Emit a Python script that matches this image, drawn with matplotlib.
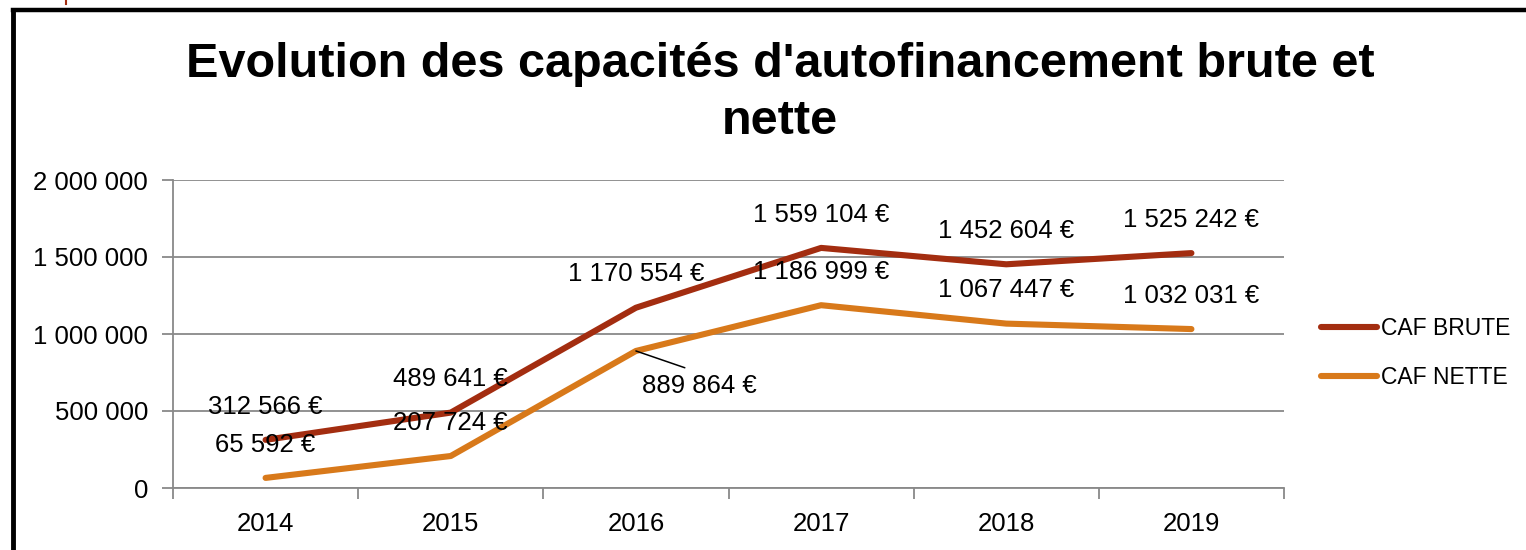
import matplotlib
matplotlib.use("Agg")
import matplotlib.pyplot as plt
from matplotlib.lines import Line2D

plt.rcParams['font.family'] = ['Liberation Sans', 'DejaVu Sans']

years = ['2014', '2015', '2016', '2017', '2018', '2019']
caf_brute = [312566, 489641, 1170554, 1559104, 1452604, 1525242]
caf_nette = [65592, 207724, 889864, 1186999, 1067447, 1032031]

brute_color = '#A32D10'
nette_color = '#D8791A'
grid_color = '#898989'
fs = 18.5


def fmt_eur(v):
    return '{:,}'.format(v).replace(',', ' ') + ' €'


def fmt_axis(v):
    return '{:,}'.format(int(v)).replace(',', ' ')


fig = plt.figure(figsize=(15.26, 5.5), dpi=100)
ax = fig.add_axes([173 / 1526, 1 - 488 / 550, 1111 / 1526, 308 / 550])

x = list(range(len(years)))
ax.plot(x, caf_brute, color=brute_color, lw=4.4, solid_capstyle='round', label='CAF BRUTE')
ax.plot(x, caf_nette, color=nette_color, lw=4.4, solid_capstyle='round', label='CAF NETTE')

ax.set_xlim(-0.5, len(years) - 0.5)
ax.set_ylim(0, 2000000)
yt = [0, 500000, 1000000, 1500000, 2000000]
ax.set_yticks(yt)
ax.set_yticklabels([fmt_axis(v) for v in yt], fontsize=fs)
ax.set_xticks(x)
ax.set_xticklabels(years, fontsize=fs)
ax.tick_params(axis='x', length=0, pad=17)
ax.tick_params(axis='y', length=8, width=1.3, color=grid_color, pad=10)
# category boundary ticks
ax.set_xticks([i - 0.5 for i in range(len(years) + 1)], minor=True)
ax.tick_params(axis='x', which='minor', length=8, width=1.3, color=grid_color)

ax.grid(axis='y', color=grid_color, lw=1.3)
ax.set_axisbelow(True)
for s in ['top', 'right']:
    ax.spines[s].set_visible(False)
for s in ['left', 'bottom']:
    ax.spines[s].set_color(grid_color)
    ax.spines[s].set_linewidth(1.3)

# data labels
for i, v in enumerate(caf_brute):
    ax.annotate(fmt_eur(v), (i, v), xytext=(0, 24), textcoords='offset points',
                ha='center', va='center', fontsize=fs)
for i, v in enumerate(caf_nette):
    if i == 2:
        ax.annotate(fmt_eur(v), (i, v), xytext=(46, -25), textcoords='offset points',
                    ha='center', va='center', fontsize=fs,
                    arrowprops=dict(arrowstyle='-', color='black', lw=1.1,
                                    relpos=(0.52, 1.0), shrinkA=7, shrinkB=0))
    else:
        ax.annotate(fmt_eur(v), (i, v), xytext=(0, 24), textcoords='offset points',
                    ha='center', va='center', fontsize=fs)

handles = [Line2D([0], [0], color=brute_color, lw=4.4, solid_capstyle='round'),
           Line2D([0], [0], color=nette_color, lw=4.4, solid_capstyle='round')]
fig.legend(handles, ['CAF BRUTE', 'CAF NETTE'], loc='center left',
           bbox_to_anchor=(1321 / 1526, 1 - 353 / 550), frameon=False,
           fontsize=16.5, handlelength=2.45, handletextpad=0.15, labelspacing=1.15,
           borderpad=0, borderaxespad=0)

fig.text(780 / 1526, 1 - 93 / 550,
         "Evolution des capacités d'autofinancement brute et\nnette",
         ha='center', va='center', fontsize=35, fontweight='bold', linespacing=1.36)

# black frame (left and top edges visible)
fig.add_artist(Line2D([12.5 / 1526, 12.5 / 1526], [0, 1 - 10 / 550], color='black',
                      lw=3.5, transform=fig.transFigure, solid_capstyle='projecting'))
fig.add_artist(Line2D([12.5 / 1526, 1.0], [1 - 10 / 550, 1 - 10 / 550], color='black',
                      lw=3.2, transform=fig.transFigure, solid_capstyle='projecting'))
# small red mark at top left
fig.add_artist(Line2D([65.5 / 1526, 65.5 / 1526], [1, 1 - 4 / 550], color='#A32D10',
                      lw=1.5, transform=fig.transFigure))

fig.savefig('out.png', dpi=100)
